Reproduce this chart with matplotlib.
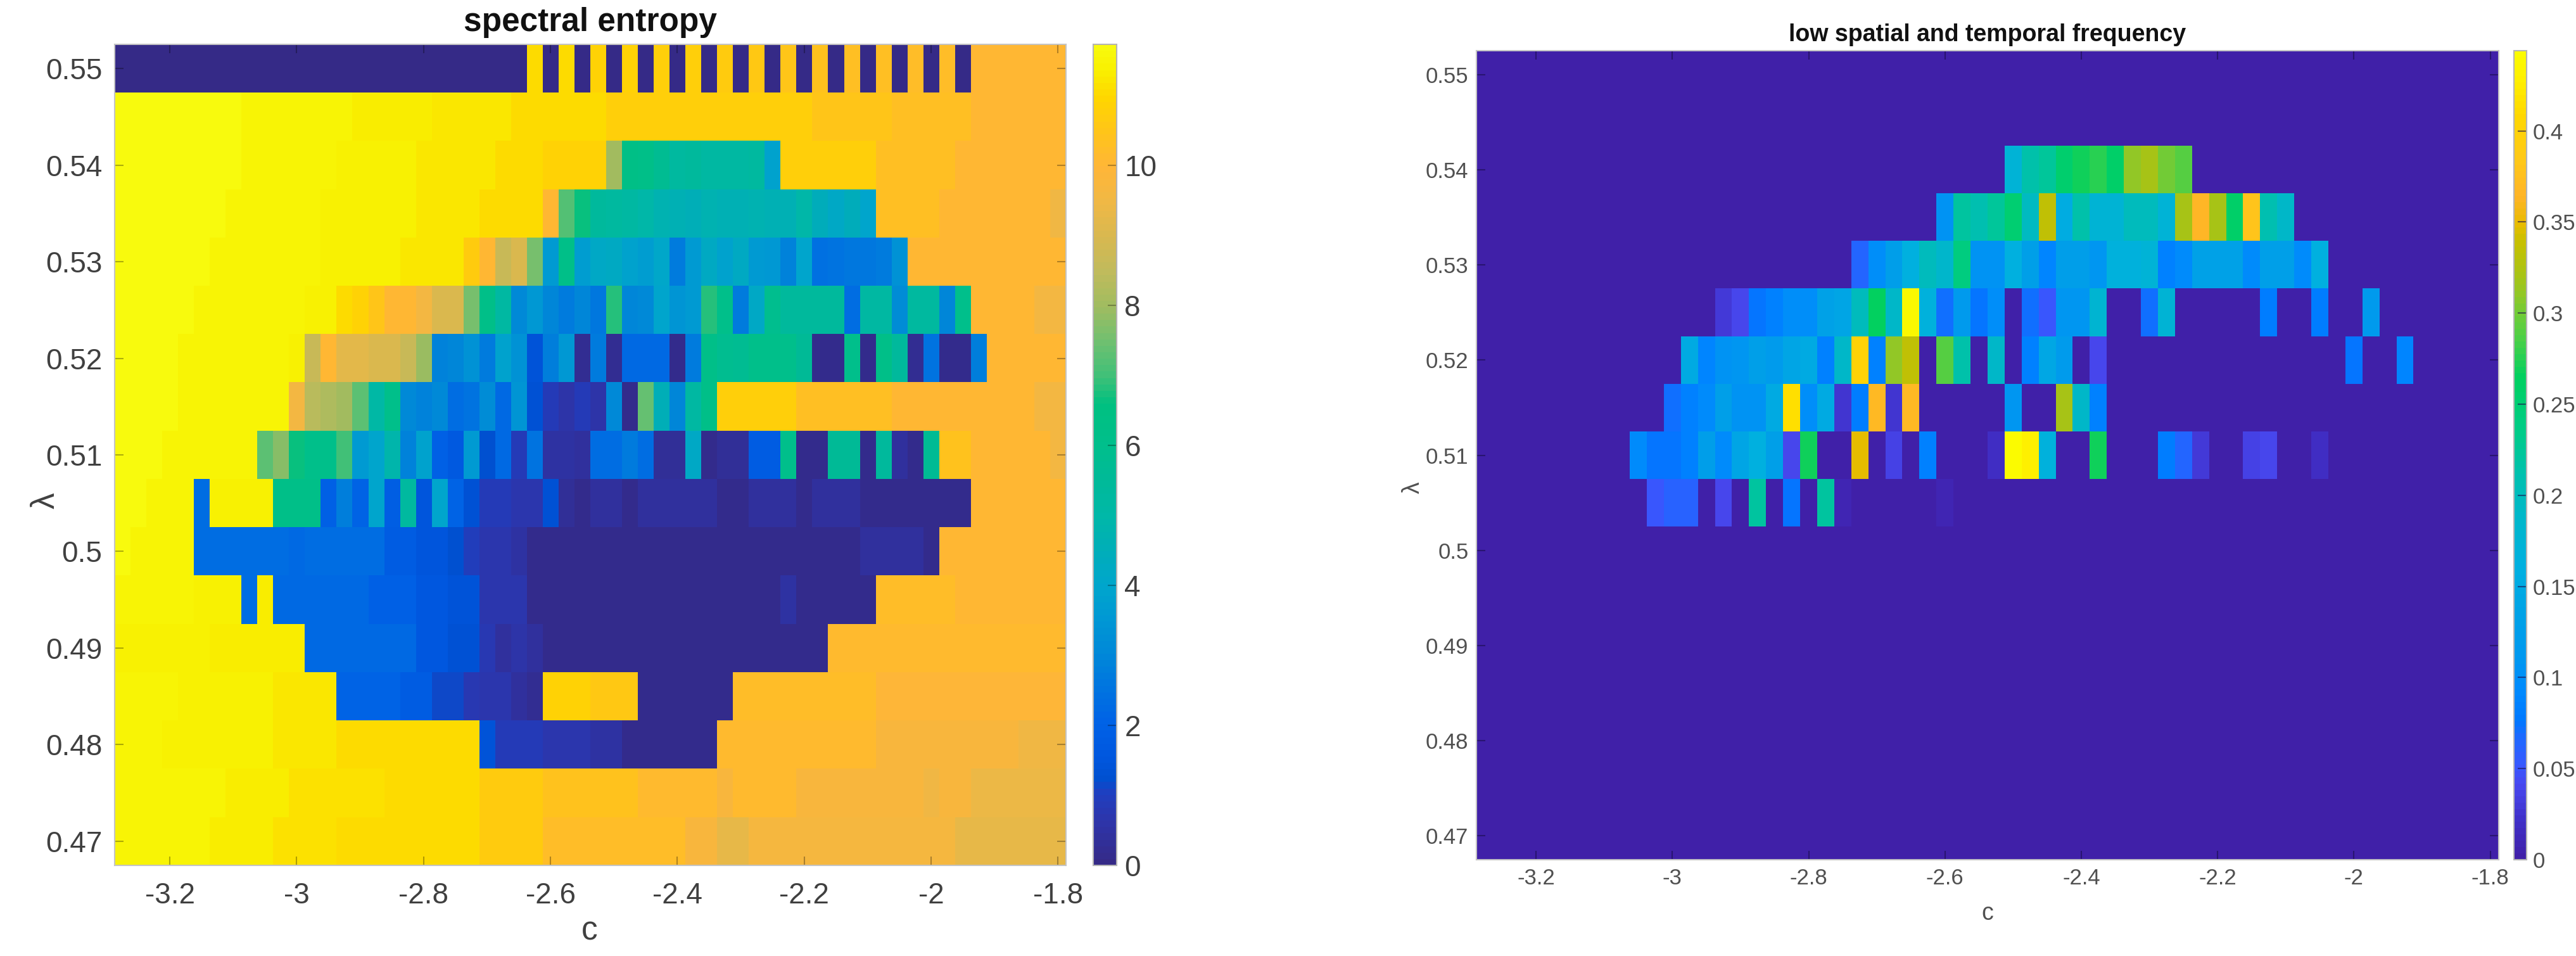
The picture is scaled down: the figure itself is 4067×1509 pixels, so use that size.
import numpy as np
import matplotlib
matplotlib.use("Agg")
import matplotlib.pyplot as plt
from matplotlib.colors import LinearSegmentedColormap

plt.rcParams['font.family'] = ['Liberation Sans', 'DejaVu Sans']

W, H = 4067, 1509

# spectral entropy, one list per lambda row, top to bottom, 60 c columns
ent_055 = [0]*26 + [11.0,0,11.0,0,10.9,0,10.9,0,10.8,0,10.8,0,10.7,0,10.6,0,10.5,0,10.4,0,10.3,0,10.3,0,10.2,0,10.2,0] + [10.0]*6
ent_0545 = [11.7]*8 + [11.5]*7 + [11.3]*5 + [11.2]*5 + [11.0]*6 + [10.8]*13 + [10.5]*5 + [10.3]*5 + [10.0]*6
ent_054 = [11.7]*8 + [11.5]*6 + [11.4]*5 + [11.2]*5 + [11.0]*3 + [10.9]*4 + [8.0,6.3,6.2,5.7,5.3,5.4,5.2,5.2,5.2,5.3,3.9] + [10.8]*6 + [10.3]*5 + [10.0]*7
ent_0535 = [11.7]*7 + [11.5]*6 + [11.4]*6 + [11.2]*4 + [11.0]*4 + [10.0,7.2,6.6,5.4,5.3,5.2,5.0,4.7,4.6,4.5,4.7,4.6,4.6,4.7,4.6,4.6,5.0,4.4,4.2,4.4,4.0] + [10.3]*4 + [10.0]*7 + [9.5]
ent_053 = [11.7]*6 + [11.5]*7 + [11.4]*5 + [11.2]*4 + [10.7,10.0,8.7,9.0,7.6,3.6,6.2,3.7,4.2,4.3,3.9,3.7,4.1,2.7,3.6,4.3,3.9,4.3,3.6,3.5,2.9,4.0,2.4,2.5,2.6,2.6,2.7,3.3] + [10.0]*10
ent_0525 = [11.7]*5 + [11.5]*7 + [11.4]*2 + [11.0,10.9,10.5,10.0,10.0,9.6,9.0,9.0,7.6,6.2,5.2,3.1,3.5,3.0,2.7,3.0,2.6,6.8,3.0,3.1,4.0,3.4,3.6,6.8,6.1,2.7,4.2,5.9,5.4,5.4,5.4,5.4,2.3,5.2,5.2,3.2,5.3,5.3,3.0,6.0] + [10.0]*4 + [9.6]*2
ent_052 = [11.7]*4 + [11.5]*7 + [11.4] + [8.7,10.0,9.2,9.2,9.0,9.0,8.7,7.9,2.9,3.0,3.3,2.7,3.9,3.3,1.4,2.8,3.5,0.2,2.7,0.2,2.2,2.2,2.2,0.1,2.7,6.2,5.8,5.7,6.1,6.1,6.0,5.5,0.1,0.1,6.0,0.1,6.2,5.4,0.2,2.5,0.1,0.1,2.8] + [10.0]*5
ent_0515 = [11.7]*4 + [11.5]*7 + [9.6,8.4,8.2,8.0,7.3,5.1,6.1,3.1,2.9,3.1,2.3,2.5,3.2,2.2,3.4,1.3,0.9,0.6,0.9,0.6,3.1,0.1,7.4,4.5,3.0,5.2,6.2] + [10.8]*5 + [10.3]*6 + [10.0]*9 + [9.6]*2
ent_051 = [11.7]*3 + [11.5]*6 + [7.3,7.7,6.6,6.1,6.1,7.0,3.6,4.0,4.9,2.9,3.9,2.0,1.7,3.6,1.2,2.2,0.9,2.5,0.5,0.5,0.4,2.3,2.3,2.7,2.3,0.3,0.3,4.2,0.1,0.3,0.3,1.8,1.8,6.0,0.1,0.1,5.5,5.5,0.1,5.4,0.4,0.1,5.6] + [10.4]*2 + [10.0]*5 + [9.6]
ent_0505 = [11.7]*2 + [11.5]*3 + [2.3] + [11.4]*4 + [6.2]*3 + [2.0,2.8,2.1,4.0,1.9,5.3,1.5,4.0,2.1,1.3,0.9,0.9,0.7,0.7,1.3,0.3,0.1,0.4,0.4,0.1] + [0.4]*5 + [0.1]*2 + [0.4]*3 + [0.1] + [0.4]*3 + [0.1]*7 + [10.0]*6
ent_050 = [11.7] + [11.5]*4 + [2.3]*6 + [2.2] + [2.3]*5 + [1.8,1.8,1.5,1.5,1.2,1.0,0.7,0.7,0.5] + [0.1]*21 + [0.4]*4 + [0.1] + [10.0]*8
ent_0495 = [11.5]*5 + [11.4]*3 + [2.3,11.3] + [2.2]*6 + [2.0]*3 + [1.6,1.6,1.4,1.4,0.7,0.7,0.7] + [0.1]*16 + [0.5] + [0.1]*5 + [10.2]*5 + [10.0]*7
ent_049 = [11.4]*6 + [11.3]*6 + [2.2]*7 + [1.6,1.6,1.3,1.3,0.8,0.4,0.6,0.4] + [0.1]*18 + [10.1]*15
ent_0485 = [11.5]*4 + [11.4]*6 + [11.2]*4 + [2.1]*4 + [1.8,1.8,1.1,1.1,0.8,0.7,0.7,0.4,0.2] + [10.9]*3 + [10.6]*3 + [0.1]*6 + [10.2]*9 + [9.9]*12
ent_048 = [11.5]*3 + [11.4]*7 + [11.2]*4 + [11.0]*9 + [1.4,0.9,0.9,0.9,0.7,0.7,0.7,0.5,0.5] + [0.1]*6 + [10.1]*10 + [9.8]*9 + [9.5]*3
ent_0475 = [11.5]*7 + [11.3]*4 + [11.1]*6 + [11.0]*6 + [10.7]*4 + [10.4]*6 + [10.1]*5 + [9.8] + [10.1]*4 + [9.8]*8 + [9.5] + [9.8]*2 + [9.4]*6
ent_047 = [11.5]*6 + [11.3]*4 + [11.1]*4 + [11.0]*9 + [10.7]*4 + [10.2]*9 + [9.8]*2 + [9.3]*2 + [9.7]*13 + [9.3]*7

# low spatial and temporal frequency, rows that are not listed are all zero
low_054 = [0]*31 + [.17,.215,.225,.255,.27,.275,.26,.31,.32,.30,.29] + [0]*18
low_0535 = [0]*27 + [.105,.22,.21,.225,.25,.195,.335,.155,.215,.175,.175,.2,.2,.17,.32,.365,.32,.26,.38,.21,.19] + [0]*12
low_053 = [0]*22 + [.065,.1,.125,.16,.2,.185,.24,.105,.105,.16,.13,.09,.125,.125,.11,.165,.165,.17,.085,.095,.135,.135,.135,.095,.13,.13,.095,.16] + [0]*10
low_0525 = [0]*14 + [.03,.04,.075,.085,.1,.1,.135,.14,.2,.265,.19,.44,.165,.07,.115,.075,.1,0,.07,.05,.11,.11,.18,0,0,.07,.175,0,0,0,0,0,.08,0,0,.08,0,0,.115] + [0]*7
low_052 = [0]*12 + [.15,.09,.105,.11,.13,.12,.14,.15,.085,.19,.40,.085,.31,.335,0,.29,.215,0,.19,0,.085,.145,.12,0,.04] + [0]*14 + [.075,0,0,.09] + [0]*5
low_0515 = [0]*11 + [.07,.085,.095,.13,.105,.105,.15,.415,.1,.15,.025,.08,.37,.025,.37,0,0,0,0,0,.11,0,0,.32,.19,.085] + [0]*23
low_051 = [0]*9 + [.095,.075,.075,.085,.125,.095,.14,.16,.13,.04,.27,0,0,.35,0,.035,0,.085,0,0,0,.02,.444,.43,.165,0,0,.27,0,0,0,.08,.065,.03,0,0,.035,.04,0,0,.02] + [0]*10
low_0505 = [0]*10 + [.05,.06,.06,0,.04,0,.22,0,.075,0,.22,.01,0,0,0,0,0,.008] + [0]*32
low_zero = [0]*60

c_ticks = [-3.2, -3, -2.8, -2.6, -2.4, -2.2, -2, -1.8]
c_labels = ['-3.2', '-3', '-2.8', '-2.6', '-2.4', '-2.2', '-2', '-1.8']
lam_ticks = [0.47, 0.48, 0.49, 0.5, 0.51, 0.52, 0.53, 0.54, 0.55]
lam_labels = ['0.47', '0.48', '0.49', '0.5', '0.51', '0.52', '0.53', '0.54', '0.55']
ent_cb_ticks = [0, 2, 4, 6, 8, 10]
low_cb_ticks = [0, .05, .1, .15, .2, .25, .3, .35, .4]
low_cb_labels = ['0', '0.05', '0.1', '0.15', '0.2', '0.25', '0.3', '0.35', '0.4']

ent_cmap_pts = [(0,'#352a87'),(.6,'#2d35ab'),(1.0,'#1f3fc0'),(1.2,'#0050d0'),(1.5,'#0056de'),(2,'#0062e6'),
                (2.5,'#0074e0'),(3,'#0088d8'),(3.5,'#0098d4'),(4,'#00a6cc'),(4.5,'#00aeb8'),(5,'#00b8a8'),
                (5.5,'#00ba98'),(6,'#00bf8c'),(6.6,'#00c080'),(7,'#40c078'),(7.5,'#70c070'),(8,'#a0bc60'),
                (8.5,'#c0bb5c'),(9,'#d8b850'),(9.5,'#f0b845'),(10,'#ffb638'),(10.5,'#ffc41a'),(11,'#ffd600'),
                (11.4,'#f9f000'),(11.73,'#f8fa0d')]
low_cmap_pts = [(0,'#4020a8'),(.02,'#4030c8'),(.04,'#4848f0'),(.05,'#3858ff'),(.065,'#2068ff'),(.075,'#0078ff'),
                (.09,'#0088ff'),(.11,'#0098f0'),(.13,'#00a0e8'),(.16,'#00b0e0'),(.19,'#00b8c8'),(.21,'#00c0b0'),
                (.235,'#00cc88'),(.265,'#00d060'),(.285,'#48d048'),(.30,'#70cc38'),(.31,'#90c828'),(.32,'#a5c418'),
                (.34,'#c8c000'),(.35,'#e8bc00'),(.365,'#ffb428'),(.385,'#ffc818'),(.41,'#ffd800'),(.43,'#fff000'),
                (.444,'#fbfb00')]


def make_cmap(pts):
    top = pts[-1][0]
    return LinearSegmentedColormap.from_list("x", [(v/top, col) for v, col in pts], N=128), top


def box(x0, x1, y0, y1):
    # pixel box of the reference -> figure fractions
    return [x0/W, 1-y1/H, (x1-x0)/W, (y1-y0)/H]


def panel(grid, pts, ax_box, cb_box, title, tsize, lsize, xpad, ypad, tick_col, txt_col, cb_ticks, cb_labels, cb_pad):
    cmap, top = make_cmap(pts)
    ax = fig.add_axes(box(*ax_box))
    im = ax.imshow(np.array(grid), cmap=cmap, vmin=0, vmax=top, aspect='auto', interpolation='nearest',
                   extent=[-3.2875, -1.7875, 0.4675, 0.5525])
    ax.set_xticks(c_ticks, c_labels)
    ax.set_yticks(lam_ticks, lam_labels)
    ax.tick_params(direction='in', length=10, width=1.5, top=True, right=True, color=tick_col,
                   labelsize=lsize, labelcolor=txt_col)
    ax.tick_params(axis='x', pad=xpad)
    ax.tick_params(axis='y', pad=ypad)
    for s in ax.spines.values():
        s.set_color('#c4c4c4')
        s.set_linewidth(1.5)
    ax.set_title(title, fontsize=tsize, fontweight='bold', pad=tsize*0.4, color='#111111')
    cax = fig.add_axes(box(*cb_box))
    cb = fig.colorbar(im, cax=cax, ticks=cb_ticks)
    cb.ax.set_yticklabels(cb_labels)
    cb.ax.tick_params(direction='in', length=10, width=1.5, color=tick_col, labelsize=lsize,
                      labelcolor=txt_col, pad=cb_pad)
    cb.outline.set_edgecolor('#b4b4b4')
    cb.outline.set_linewidth(1.5)
    return ax


fig = plt.figure(figsize=(W/100, H/100), dpi=100, facecolor='white')

entropy = [ent_055, ent_0545, ent_054, ent_0535, ent_053, ent_0525, ent_052, ent_0515, ent_051,
           ent_0505, ent_050, ent_0495, ent_049, ent_0485, ent_048, ent_0475, ent_047]
low_freq = [low_zero, low_zero, low_054, low_0535, low_053, low_0525, low_052, low_0515, low_051,
            low_0505, low_zero, low_zero, low_zero, low_zero, low_zero, low_zero, low_zero]

panel(entropy, ent_cmap_pts, (180.6, 1682.6, 70, 1366), (1725.5, 1762.8, 70, 1366), 'spectral entropy',
      37, 33, 19, 14, (0, 0, 0, 0.3), '#404040', ent_cb_ticks, [str(v) for v in ent_cb_ticks], 9)
panel(low_freq, low_cmap_pts, (2331, 3945, 80, 1357), (3969, 3989, 80, 1357), 'low spatial and temporal frequency',
      27, 25, 9, 9, (0.1, 0.05, 0.3, 0.6), '#505050', low_cb_ticks, low_cb_labels, 7)

fig.text(931/W, 1-1470/H, 'c', fontsize=37, color='#404040', ha='center', va='center')
fig.text(72/W, 1-790/H, 'λ', fontsize=37, color='#404040', ha='center', va='center', rotation=90)
fig.text(3138/W, 1-1442/H, 'c', fontsize=27, color='#505050', ha='center', va='center')
fig.text(2231/W, 1-770/H, 'λ', fontsize=27, color='#505050', ha='center', va='center', rotation=90)

fig.savefig("out.png", dpi=100)
